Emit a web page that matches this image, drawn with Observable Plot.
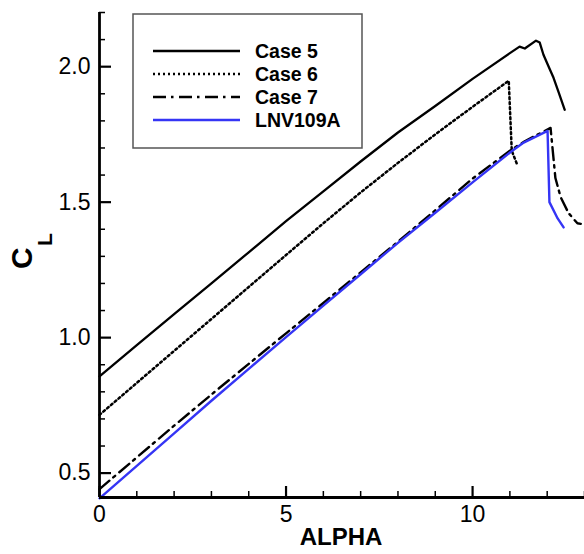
<!DOCTYPE html>
<html><head><meta charset="utf-8">
<script src="https://cdn.jsdelivr.net/npm/d3@7"></script>
<script src="https://cdn.jsdelivr.net/npm/@observablehq/plot@0.6"></script>
<style>
body{margin:0;background:#fff;}
#wrap{position:relative;width:584px;height:554px;}
</style></head><body><div id="wrap"></div><script>
// Case 5 (solid)
const alpha5 = [0, 1, 2, 3, 4, 5, 6, 7, 8, 9, 10, 11, 11.26, 11.4, 11.7, 11.8, 11.9, 12.04, 12.17, 12.31, 12.47];
const cl5    = [0.857, 0.972, 1.087, 1.20, 1.315, 1.43, 1.54, 1.65, 1.757, 1.855, 1.955, 2.05, 2.074, 2.067, 2.096, 2.089, 2.044, 2.0, 1.959, 1.904, 1.841];
// Case 6 (dotted)
const alpha6 = [0, 1, 2, 3, 4, 5, 6, 7, 8, 9, 10, 10.97, 11.05, 11.2];
const cl6    = [0.715, 0.833, 0.951, 1.069, 1.187, 1.305, 1.422, 1.536, 1.645, 1.75, 1.852, 1.948, 1.69, 1.637];
// Case 7 (dash-dot)
const alpha7 = [0, 1, 2, 3, 4, 5, 6, 7, 8, 9, 10, 11, 11.4, 12.09, 12.22, 12.36, 12.57, 12.81, 12.9];
const cl7    = [0.441, 0.558, 0.675, 0.79, 0.903, 1.016, 1.128, 1.241, 1.354, 1.47, 1.587, 1.69, 1.725, 1.774, 1.589, 1.519, 1.46, 1.422, 1.42];
// LNV109A (blue)
const alphaL = [0, 1, 2, 3, 4, 5, 6, 7, 8, 9, 10, 11.02, 11.37, 12.01, 12.06, 12.28, 12.44];
const clL    = [0.407, 0.527, 0.647, 0.767, 0.885, 1.002, 1.118, 1.234, 1.35, 1.461, 1.573, 1.685, 1.72, 1.763, 1.5, 1.44, 1.407];

const seriesNames = ["Case 5", "Case 6", "Case 7", "LNV109A"];
const xMajor = [0, 5, 10];
const xMinor = d3.range(1, 14).filter(v => v % 5 !== 0);
const yMajor = [0.5, 1.0, 1.5, 2.0];
const yMinor = d3.range(0.5, 2.25, 0.1).map(v => +v.toFixed(1)).filter(v => Math.abs(v * 2 - Math.round(v * 2)) > 1e-6);

const toRows = (xs, ys) => xs.map((x, i) => ({x, y: ys[i]}));
const datasets = [toRows(alpha5, cl5), toRows(alpha6, cl6), toRows(alpha7, cl7), toRows(alphaL, clL)];

const styles = [
  {stroke: "#000", strokeWidth: 2.3, dash: null},
  {stroke: "#000", strokeWidth: 2.5, dash: "2,3"},
  {stroke: "#000", strokeWidth: 2.4, dash: "13,5,2.5,5.5"},
  {stroke: "#3535f5", strokeWidth: 2.4, dash: null}
];

const font = "'Liberation Sans', Arial, sans-serif";
const chart = Plot.plot({
  width: 584, height: 554,
  marginLeft: 99, marginRight: 0, marginTop: 12, marginBottom: 57,
  style: {fontFamily: font, background: "#fff", overflow: "visible"},
  x: {domain: [0, 13]},
  y: {domain: [0.41, 2.2]},
  marks: [
    ...datasets.map((d, i) => Plot.line(d, {x: "x", y: "y", stroke: styles[i].stroke, strokeWidth: styles[i].strokeWidth, strokeDasharray: styles[i].dash, strokeLinejoin: "round"})),
    Plot.axisX({ticks: xMajor, tickSize: -11, tickPadding: 19, strokeWidth: 2.2, fontSize: 23, label: null, tickFormat: d => String(d)}),
    Plot.axisX({ticks: xMinor, tickSize: -6, tickFormat: () => "", strokeWidth: 1.5, label: null}),
    Plot.axisY({ticks: yMajor, tickSize: -12, tickPadding: 21, strokeWidth: 2.2, fontSize: 23, label: null, tickFormat: d => d.toFixed(1)}),
    Plot.axisY({ticks: yMinor, tickSize: -6, tickFormat: () => "", strokeWidth: 1.5, label: null}),
    Plot.ruleX([0], {strokeWidth: 2.8}),
    Plot.ruleY([0.41], {strokeWidth: 2.8})
  ]
});
document.getElementById("wrap").appendChild(chart);

const svg = d3.select(chart);
// Axis titles
svg.append("text").attr("x", 341).attr("y", 545).attr("text-anchor", "middle")
  .attr("font-family", font).attr("font-weight", "bold").attr("font-size", 24).attr("fill", "#000").text("ALPHA");
svg.append("text").attr("transform", "translate(32,269) rotate(-90)").attr("text-anchor", "start")
  .attr("font-family", font).attr("font-weight", "bold").attr("font-size", 30).attr("fill", "#000").text("C");
svg.append("text").attr("transform", "translate(52,246) rotate(-90)").attr("text-anchor", "start")
  .attr("font-family", font).attr("font-weight", "bold").attr("font-size", 21).attr("fill", "#000").text("L");

// Legend
const lg = svg.append("g");
lg.append("rect").attr("x", 133).attr("y", 14).attr("width", 229).attr("height", 134)
  .attr("fill", "#fff").attr("stroke", "#555").attr("stroke-width", 1.5);
const rowY = [51, 74, 97, 120];
seriesNames.forEach((name, i) => {
  lg.append("line").attr("x1", 153).attr("x2", 240).attr("y1", rowY[i]).attr("y2", rowY[i])
    .attr("stroke", styles[i].stroke).attr("stroke-width", styles[i].strokeWidth)
    .attr("stroke-dasharray", styles[i].dash);
  lg.append("text").attr("x", 255).attr("y", rowY[i] + 7).attr("text-anchor", "start")
    .attr("font-family", font).attr("font-weight", "bold").attr("font-size", 19.5).attr("fill", "#000").text(name);
});
</script></body></html>
